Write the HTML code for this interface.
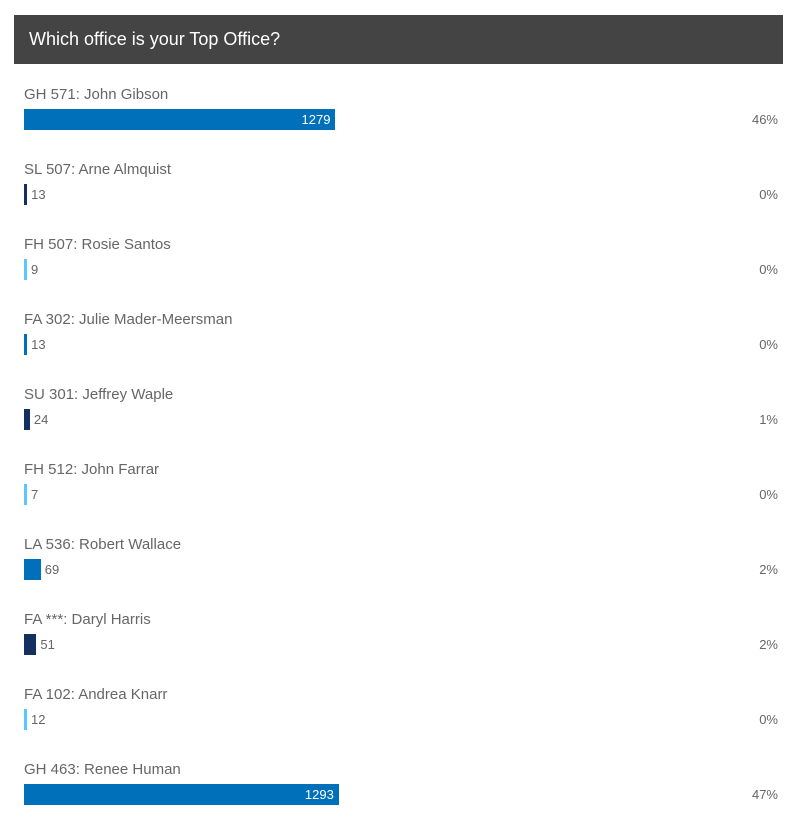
<!DOCTYPE html>
<html><head><meta charset="utf-8"><style>
body{margin:0;background:#fff;width:805px;height:829px;overflow:hidden;font-family:"Liberation Sans",sans-serif;position:relative}
.hdr{position:absolute;left:14px;top:15px;width:769px;height:49px;background:#444;color:#fff;font-size:18px;line-height:49px;padding-left:15px;box-sizing:border-box}
.lbl{position:absolute;left:24px;font-size:15px;color:#666;white-space:nowrap}
.bar{position:absolute;left:24px;height:21px}
.val{position:absolute;font-size:13px;line-height:21px;color:#666}
.pct{position:absolute;right:27px;font-size:13px;line-height:21px;color:#666}
</style></head><body>
<div class="hdr">Which office is your Top Office?</div>
<div id="rows"></div>
<script>
const categories=["GH 571: John Gibson","SL 507: Arne Almquist","FH 507: Rosie Santos","FA 302: Julie Mader-Meersman","SU 301: Jeffrey Waple","FH 512: John Farrar","LA 536: Robert Wallace","FA ***: Daryl Harris","FA 102: Andrea Knarr","GH 463: Renee Human"];
const votes=[1279,13,9,13,24,7,69,51,12,1293];
const percents=["46%","0%","0%","0%","1%","0%","2%","2%","0%","47%"];
const colors=["#0070ba","#15305f","#5ac8fa"];
const total=votes.reduce((a,b)=>a+b,0);
function xw(v){return Math.max(3,v*0.2435);}
const root=document.getElementById('rows');
categories.forEach((c,i)=>{
  const top=86+i*75;
  const l=document.createElement('div');l.className='lbl';l.style.top=top+'px';l.textContent=c;
  
  
  root.appendChild(l);
  const w=xw(votes[i]);
  const b=document.createElement('div');b.className='bar';b.style.top=(top+23)+'px';b.style.width=w+'px';b.style.background=colors[i%3];
  
  
  root.appendChild(b);
  const v=document.createElement('div');v.className='val';v.style.top=(top+23)+'px';v.textContent=votes[i];
  if(w>60){v.style.left=(24+w-45)+'px';v.style.width='40px';v.style.textAlign='right';v.style.color='#fff';}
  else{v.style.left=(24+w+4)+'px';}
  
  
  root.appendChild(v);
  const p=document.createElement('div');p.className='pct';p.style.top=(top+23)+'px';p.textContent=percents[i];
  
  
  root.appendChild(p);
});
</script>
</body></html>
